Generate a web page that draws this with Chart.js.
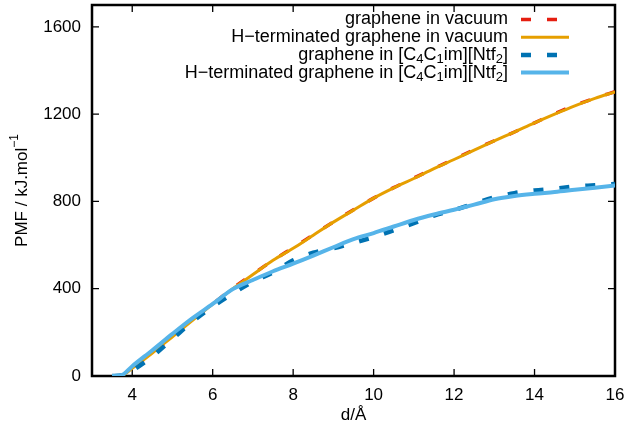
<!DOCTYPE html>
<html><head><meta charset="utf-8">
<script src="https://cdn.jsdelivr.net/npm/chart.js@4.4.0/dist/chart.umd.min.js"></script>
<style>html,body{margin:0;padding:0;background:#fff}#wrap{width:629px;height:432px;position:relative}</style>
</head><body><div id="wrap"><canvas id="c"></canvas></div>
<script>
const distances = [3.5,3.75,4.0,4.5,5.0,5.5,6.0,6.5,7.0,7.5,8.0,8.5,9.0,9.5,10.0,10.5,11.0,11.5,12.0,12.5,13.0,13.5,14.0,14.5,15.0,15.5,16.0];
const grapheneVacuum = [0,4,33,103,180,256,330,402,467,530,588,647,706,762,815,863,907,951,994,1037,1078,1118,1160,1202,1240,1273,1303];
const hTermVacuum    = [0,3,35,105,180,255,330,400,465,530,585,645,705,760,815,862,905,950,992,1035,1077,1118,1160,1200,1238,1272,1302];
const grapheneIL     = [0,2,25,90,170,250,318,378,432,475,530,565,585,610,637,668,700,735,760,790,818,838,850,858,868,874,880];
const hTermIL        = [0,5,45,118,193,265,330,398,440,480,515,552,590,627,655,685,715,740,762,785,810,825,835,843,853,863,873];
const xTicks = [4,6,8,10,12,14,16];
const yTicks = [0,400,800,1200,1600];
const seriesLabels = ['graphene in vacuum','H\u2212terminated graphene in vacuum','graphene in [C\u2084C\u2081im][Ntf\u2082]','H\u2212terminated graphene in [C\u2084C\u2081im][Ntf\u2082]'];
const xTitle = 'd/\u00C5';
const yTitle = 'PMF / kJ.mol';
const yTitleSup = '\u22121';

const FONT = '"Liberation Sans", Arial, Helvetica, sans-serif';
const FS = 17;
const LFS = 18;
const colors = ['#e51e10','#e69f00','#0072b2','#56b4e9'];
const widths = [3.5,3,4.5,4];
const dashes = [[10,16],[],[10,16],[]];
const series = [grapheneVacuum,hTermVacuum,grapheneIL,hTermIL];

function segs(label){
  const out=[]; const subMap='\u2080\u2081\u2082\u2083\u2084\u2085\u2086\u2087\u2088\u2089';
  for(const ch of label){
    const k=subMap.indexOf(ch);
    const sub=k>=0; const t=sub?String(k):ch;
    if(out.length && out[out.length-1].sub===sub) out[out.length-1].t+=t; else out.push({t,sub});
  }
  return out;
}

const frame = {
  id:'frame',
  beforeDatasetsDraw(chart){
    const {ctx, chartArea:a, scales:{x,y}} = chart;
    ctx.save();
    ctx.strokeStyle='#000'; ctx.lineWidth=1.3;
    ctx.beginPath();
    xTicks.forEach(v=>{const p=x.getPixelForValue(v); ctx.moveTo(p,a.bottom); ctx.lineTo(p,a.bottom-7); ctx.moveTo(p,a.top); ctx.lineTo(p,a.top+7);});
    yTicks.forEach(v=>{const p=y.getPixelForValue(v); ctx.moveTo(a.left,p); ctx.lineTo(a.left+7,p); ctx.moveTo(a.right,p); ctx.lineTo(a.right-7,p);});
    ctx.stroke();
    ctx.lineWidth=2.5;
    ctx.strokeRect(a.left,a.top,a.width,a.height);
    ctx.restore();
  },
  afterDraw(chart){
    const {ctx, chartArea:a} = chart;
    ctx.save();
    ctx.fillStyle='#000';
    const textRight=a.right-107, sL=a.right-94, sR=a.right-46;
    const sf=Math.round(LFS*0.72);
    seriesLabels.forEach((lab,i)=>{
      const yy=a.top+14.5+i*17.7;
      const parts=segs(lab);
      let w=0;
      parts.forEach(p=>{ctx.font=(p.sub?sf:LFS)+'px '+FONT; p.w=ctx.measureText(p.t).width; w+=p.w;});
      let xx=textRight-w;
      ctx.textBaseline='middle'; ctx.textAlign='left';
      parts.forEach(p=>{ctx.font=(p.sub?sf:LFS)+'px '+FONT; ctx.fillText(p.t,xx,yy+(p.sub?5:0)); xx+=p.w;});
      ctx.beginPath(); ctx.strokeStyle=colors[i]; ctx.lineWidth=widths[i]; ctx.setLineDash(dashes[i]); ctx.lineCap='butt';
      ctx.moveTo(sL,yy); ctx.lineTo(sR,yy); ctx.stroke(); ctx.setLineDash([]);
    });
    ctx.font=FS+'px '+FONT; ctx.textAlign='center'; ctx.textBaseline='middle';
    ctx.fillText(xTitle,(a.left+a.right)/2,415);
    ctx.translate(22,(a.top+a.bottom)/2); ctx.rotate(-Math.PI/2);
    ctx.font=FS+'px '+FONT; const w1=ctx.measureText(yTitle).width;
    ctx.font=Math.round(FS*0.72)+'px '+FONT; const w2=ctx.measureText(yTitleSup).width;
    const x0=-(w1+w2)/2;
    ctx.textAlign='left';
    ctx.font=FS+'px '+FONT; ctx.fillText(yTitle,x0,0);
    ctx.font=Math.round(FS*0.72)+'px '+FONT; ctx.fillText(yTitleSup,x0+w1,-7);
    ctx.restore();
  }
};

new Chart(document.getElementById('c'),{
  type:'line',
  data:{datasets: series.map((s,i)=>({
    label: seriesLabels[i],
    data: distances.map((d,j)=>({x:d,y:s[j]})),
    borderColor: colors[i], backgroundColor: colors[i],
    borderWidth: widths[i], borderDash: dashes[i],
    pointRadius:0, fill:false, cubicInterpolationMode:'monotone',
    order: 4-i
  }))},
  options:{
    responsive:true, maintainAspectRatio:false, animation:false,
    layout:{padding:{left:0,right:14,top:5,bottom:0}},
    plugins:{legend:{display:false}, tooltip:{enabled:false}},
    scales:{
      x:{type:'linear',min:3,max:16,
        grid:{display:false,drawTicks:false}, border:{display:false},
        ticks:{font:{family:FONT,size:FS},color:'#000',padding:9,maxRotation:0,autoSkip:false,callback:v=>String(v)},
        afterBuildTicks:s=>{s.ticks=xTicks.map(v=>({value:v}));},
        afterFit:s=>{s.height=56; s.paddingLeft=0; s.paddingRight=0;}
      },
      y:{type:'linear',min:0,max:1700,
        grid:{display:false,drawTicks:false}, border:{display:false},
        ticks:{font:{family:FONT,size:FS},color:'#000',padding:11,autoSkip:false,callback:v=>String(v)},
        afterBuildTicks:s=>{s.ticks=yTicks.map(v=>({value:v}));},
        afterFit:s=>{s.width=92; s.paddingTop=0; s.paddingBottom=0;}
      }
    }
  },
  plugins:[frame]
});
</script></body></html>
